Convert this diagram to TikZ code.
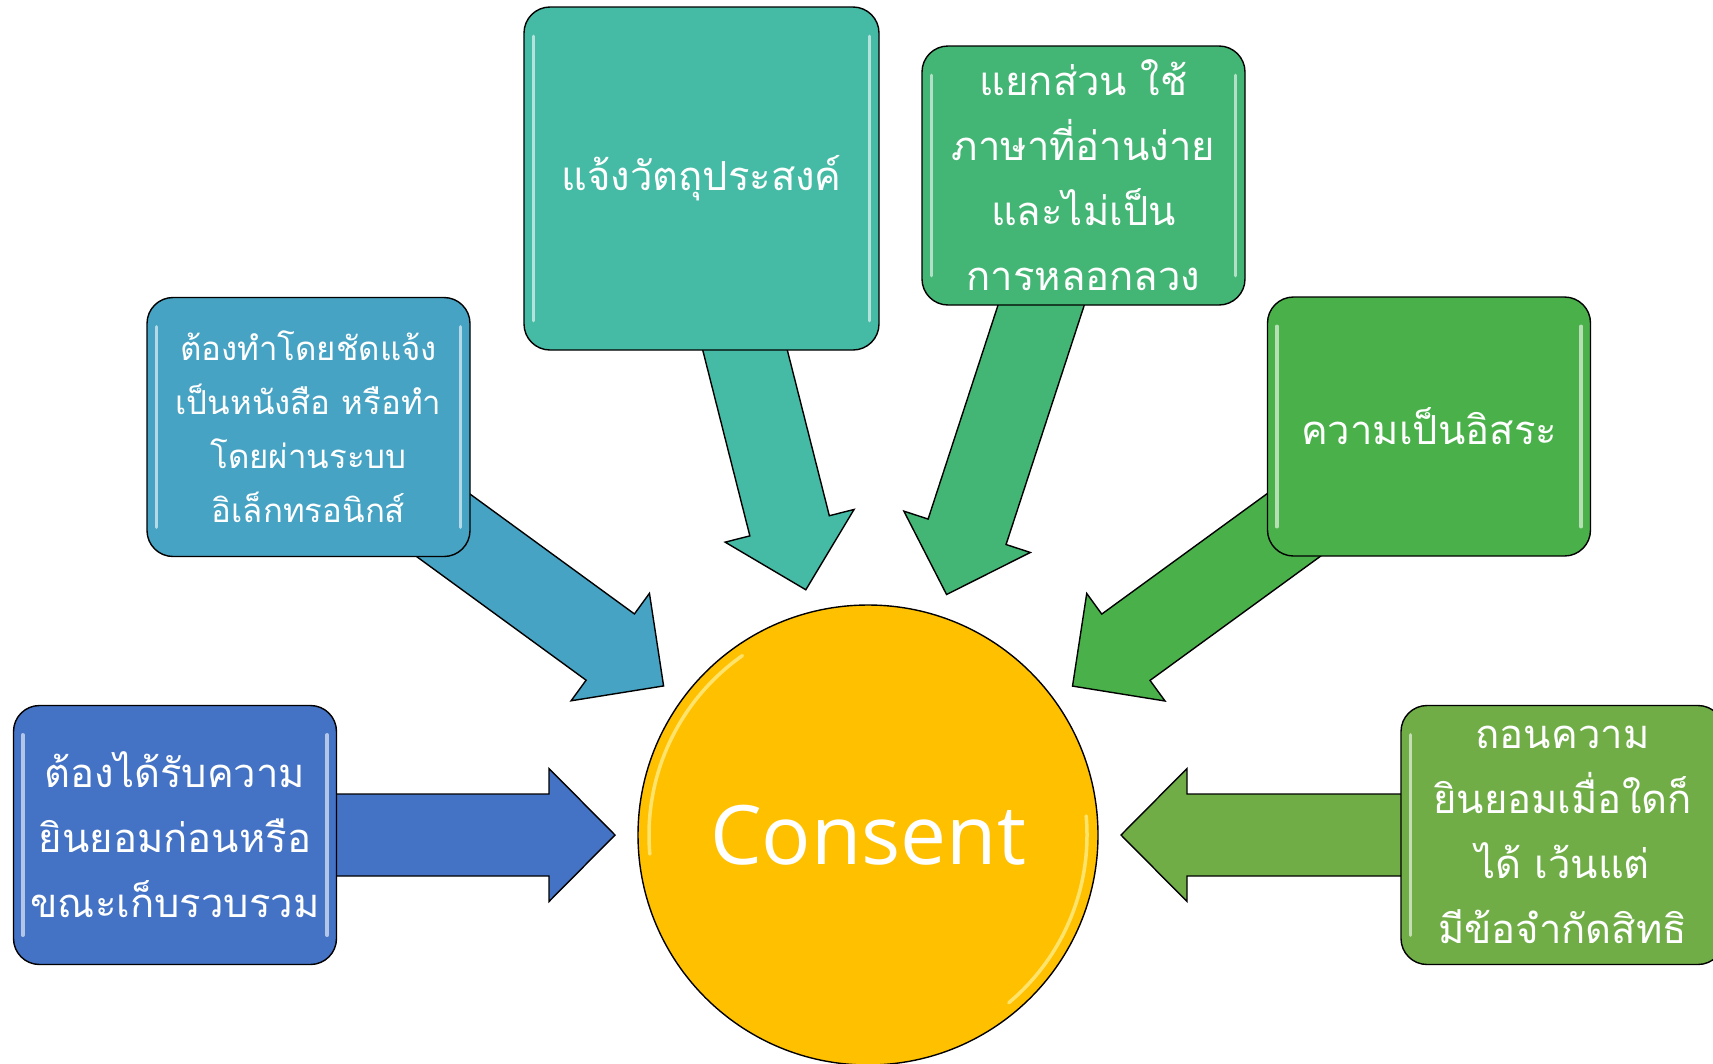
\documentclass[tikz,border=0pt]{standalone}
\usepackage{fontspec}
\setmainfont{Open Sans}
\newfontfamily\thai[Script=Thai]{Loma}
\usetikzlibrary{calc,backgrounds}

\definecolor{cblue}{HTML}{4472C4}
\definecolor{cteal}{HTML}{47A3C3}
\definecolor{cjade}{HTML}{45BBA5}
\definecolor{cmint}{HTML}{43B574}
\definecolor{cgreen}{HTML}{4AB14A}
\definecolor{colive}{HTML}{70AD47}
\definecolor{cgold}{HTML}{FFC000}

\tikzset{
  card/.style={draw=black, line width=1.4pt, rounded corners=26pt, text=white,
    align=center, inner sep=0pt, minimum width=323pt, minimum height=259pt,
    font=\thai\fontsize{40}{65}\selectfont},
  gloss/.style={white, line width=3.5pt, opacity=0.6, line cap=round},
  shaft/.style={draw=black, line width=1.4pt, line join=miter},
}

% block arrow from a box towards the circle
\newcommand\pointarrow[2]{%
  \coordinate (tip) at ($(cons.center)!253pt!(#1.center)$);
  \coordinate (neck) at ($(cons.center)!319pt!(#1.center)$);
  \filldraw[shaft, fill=#2]
    ($(#1.center)!41pt!90:(cons.center)$) -- ($(neck)!41pt!90:(cons.center)$)
    -- ($(neck)!66.5pt!90:(cons.center)$) -- (tip)
    -- ($(neck)!66.5pt!-90:(cons.center)$) -- ($(neck)!41pt!-90:(cons.center)$)
    -- ($(#1.center)!41pt!-90:(cons.center)$) -- cycle;
}

\begin{document}
\begin{tikzpicture}[x=1pt, y=1pt]
\useasboundingbox (0,0) rectangle (1713,-1063);
\clip (0,0) rectangle (1713,-1063);

\node[circle, draw=black, line width=1.4pt, fill=cgold, minimum size=460pt,
  text=white, font=\fontsize{82}{100}\selectfont] (cons) at (868,-835) {Consent};

\node[card, fill=cblue] (b1) at (175,-835) {ต้องได้รับความ\\ยินยอมก่อนหรือ\\ขณะเก็บรวบรวม};
\node[card, fill=cteal, font=\thai\fontsize{33}{54}\selectfont] (b2) at (308.5,-427)
  {ต้องทำโดยชัดแจ้ง\\เป็นหนังสือ หรือทำ\\โดยผ่านระบบ\\อิเล็กทรอนิกส์};
\node[card, fill=cjade, minimum width=355pt, minimum height=343pt] (b3) at (701.5,-178.5) {แจ้งวัตถุประสงค์};
\node[card, fill=cmint] (b4) at (1083.5,-175.5) {แยกส่วน ใช้\\ภาษาที่อ่านง่าย\\และไม่เป็น\\การหลอกลวง};
\node[card, fill=cgreen] (b5) at (1429,-426.5) {ความเป็นอิสระ};
\node[card, fill=colive] (b6) at (1562.5,-835) {ถอนความ\\ยินยอมเมื่อใดก็\\ได้ เว้นแต่\\มีข้อจำกัดสิทธิ};

% glossy edges
\foreach \b in {b1,b2,b3,b4,b5,b6} {
  \draw[gloss] ($(\b.north west)+(10,-30)$) -- ($(\b.south west)+(10,30)$);
  \draw[gloss] ($(\b.north east)+(-10,-30)$) -- ($(\b.south east)+(-10,30)$);
}
\draw[gloss, yellow!30] ([shift={(125:219)}]cons.center) arc[start angle=125, end angle=185, radius=219];
\draw[gloss, yellow!30] ([shift={(5:219)}]cons.center) arc[start angle=5, end angle=-50, radius=219];

\begin{scope}[on background layer]
\fill[white] (0,0) rectangle (1713,-1063);
\pointarrow{b1}{cblue}
\pointarrow{b2}{cteal}
\pointarrow{b3}{cjade}
\pointarrow{b4}{cmint}
\pointarrow{b5}{cgreen}
\pointarrow{b6}{colive}
\end{scope}
\end{tikzpicture}
\end{document}
